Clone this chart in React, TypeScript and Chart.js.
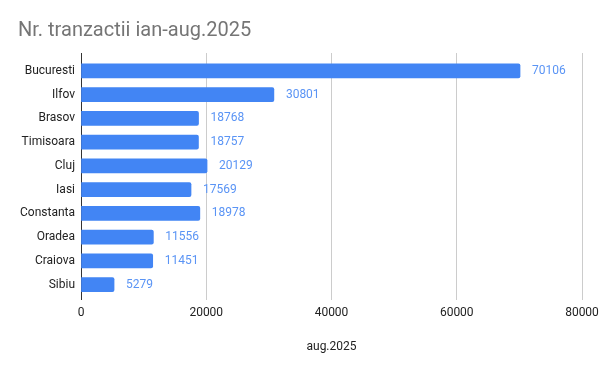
import React, { useEffect, useRef } from "react";
import { Chart, registerables } from "chart.js";

Chart.register(...registerables);

const categories = ["Bucuresti", "Ilfov", "Brasov", "Timisoara", "Cluj", "Iasi", "Constanta", "Oradea", "Craiova", "Sibiu"];
const values = [70106, 30801, 18768, 18757, 20129, 17569, 18978, 11556, 11451, 5279];
const xTicks = [0, 20000, 40000, 60000, 80000];
const titleText = "Nr. tranzactii ian-aug.2025";
const xTitle = "aug.2025";

const FONT = "Roboto, 'Liberation Sans', Arial, sans-serif";
const BAR = "#4285F4";
const LABEL = "#5A94F5";

const dataLabels = {
  id: "dataLabels",
  afterDatasetsDraw(chart: any) {
    const ctx = chart.ctx;
    const meta = chart.getDatasetMeta(0);
    ctx.save();
    ctx.font = `12px ${FONT}`;
    ctx.fillStyle = LABEL;
    ctx.textAlign = "left";
    ctx.textBaseline = "middle";
    meta.data.forEach((el: any, i: number) => {
      ctx.fillText(String(values[i]), el.x + 12, el.y);
    });
    ctx.restore();
  },
};

export default function App() {
  const ref = useRef<HTMLCanvasElement | null>(null);
  useEffect(() => {
    if (!ref.current) return;
    const chart = new Chart(ref.current, {
      type: "bar",
      data: {
        datasets: [
          {
            data: categories.map((_, i) => ({ x: values[i], y: i })),
            backgroundColor: BAR,
            borderRadius: 2,
            borderSkipped: "start",
            barThickness: 14,
          },
        ],
      },
      options: {
        indexAxis: "y",
        animation: false,
        responsive: false,
        layout: { padding: { left: 18, right: 18, top: 19, bottom: 0 } },
        plugins: {
          legend: { display: false },
          tooltip: { enabled: false },
          title: {
            display: true,
            text: titleText,
            align: "start",
            color: "#757575",
            font: { family: FONT, size: 20, weight: "normal", lineHeight: 1.2 },
            padding: { top: 0, bottom: 10 },
          },
        },
        scales: {
          x: {
            type: "linear",
            min: 0,
            max: 80000,
            offset: false,
            afterBuildTicks: (s: any) => {
              s.ticks = xTicks.map((v) => ({ value: v }));
            },
            afterFit: (s: any) => {
              s.height = 71;
              s.paddingLeft = 0;
              s.paddingRight = 0;
            },
            border: { display: false },
            grid: {
              drawTicks: false,
              offset: false,
              color: (c: any) => (c.tick && c.tick.value === 0 ? "#333333" : "#cccccc"),
              lineWidth: 1,
            },
            ticks: {
              padding: 6,
              color: "#222222",
              font: { family: FONT, size: 12 },
              maxRotation: 0,
              callback: (v: any) => String(v),
            },
            title: {
              display: true,
              text: xTitle,
              color: "#222222",
              font: { family: FONT, size: 12 },
              padding: { top: 0, bottom: 17 },
            },
          },
          y: {
            type: "linear",
            reverse: true,
            offset: false,
            min: -0.75,
            max: 9.65,
            afterBuildTicks: (s: any) => {
              s.ticks = categories.map((_, i) => ({ value: i }));
            },
            afterFit: (s: any) => {
              s.width = 63;
            },
            border: { display: false },
            grid: { display: false, drawTicks: false, offset: false },
            ticks: {
              padding: 6,
              color: "#222222",
              font: { family: FONT, size: 12 },
              callback: (v: any) => categories[v as number] ?? "",
            },
          },
        },
      },
      plugins: [dataLabels],
    } as any);
    return () => chart.destroy();
  }, []);
  return (
    <div style={{ position: "absolute", left: 0, top: 0, width: 600, height: 371, background: "#fff" }}>
      <canvas ref={ref} width={600} height={371} />
    </div>
  );
}
